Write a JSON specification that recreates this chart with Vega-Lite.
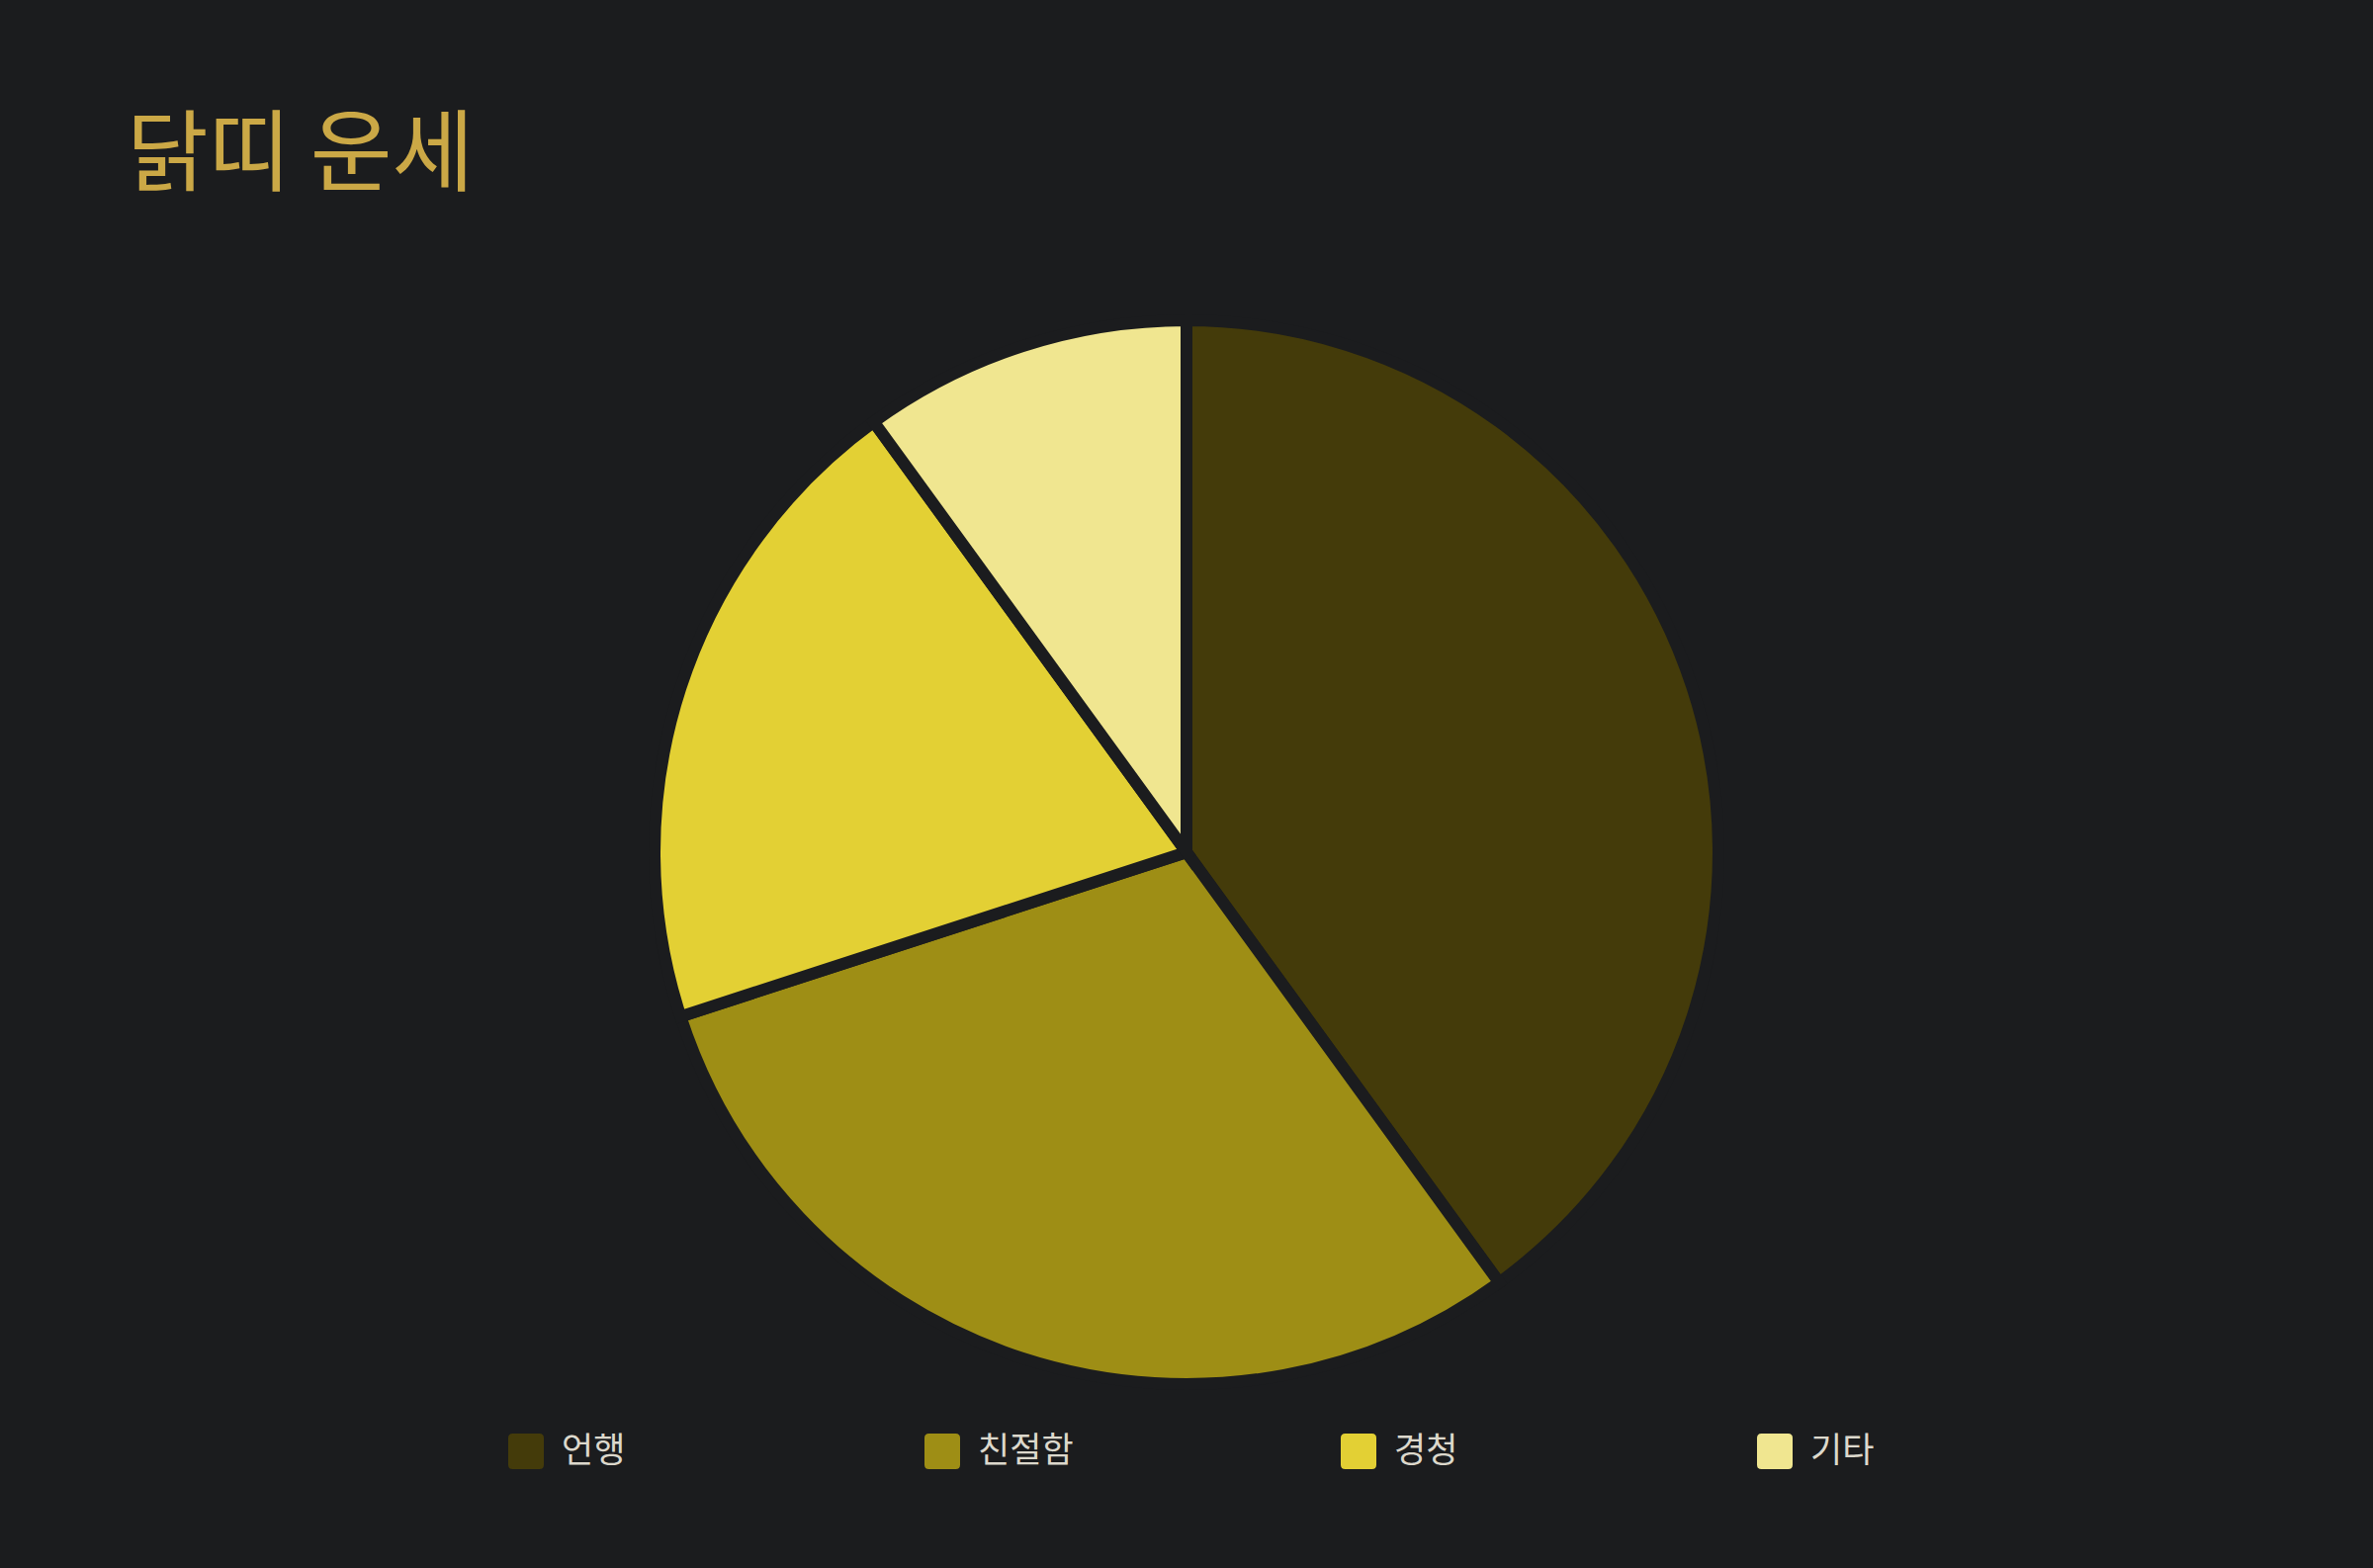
{
  "$schema": "https://vega.github.io/schema/vega-lite/v6.json",
  "description": "닭띠 운세 pie chart",
  "autosize": "none",
  "width": 2400,
  "height": 1124,
  "padding": {"top": 300, "left": 0, "right": 0, "bottom": 162},
  "background": "#1b1c1e",
  "config": {
    "view": {"stroke": null},
    "font": "Noto Sans CJK KR"
  },
  "title": {
    "text": "닭띠 운세",
    "anchor": "start",
    "frame": "group",
    "dx": 128,
    "offset": 95,
    "fontSize": 90,
    "fontWeight": "normal",
    "color": "#cba846"
  },
  "data": {
    "values": [
      {"항목": "언행", "값": 40},
      {"항목": "친절함", "값": 30},
      {"항목": "경청", "값": 20},
      {"항목": "기타", "값": 10}
    ]
  },
  "mark": {
    "type": "arc",
    "outerRadius": 538,
    "stroke": "#1b1c1e",
    "strokeWidth": 12
  },
  "encoding": {
    "theta": {"field": "값", "type": "quantitative", "stack": true},
    "order": {"field": "값", "type": "quantitative", "sort": "descending"},
    "color": {
      "field": "항목",
      "type": "nominal",
      "sort": ["언행", "친절함", "경청", "기타"],
      "scale": {
        "domain": ["언행", "친절함", "경청", "기타"],
        "range": ["#443b0a", "#9e8e15", "#e3d034", "#f0e690"]
      },
      "legend": {
        "title": null,
        "orient": "none",
        "legendX": 514,
        "legendY": 1150,
        "direction": "horizontal",
        "columns": 4,
        "padding": 0,
        "gridAlign": "all",
        "columnPadding": 270,
        "symbolType": "M -0.75 -1 L 0.75 -1 Q 1 -1 1 -0.75 L 1 0.75 Q 1 1 0.75 1 L -0.75 1 Q -1 1 -1 0.75 L -1 -0.75 Q -1 -1 -0.75 -1 Z",
        "symbolSize": 1296,
        "symbolStrokeWidth": 0,
        "symbolOpacity": 1,
        "labelFontSize": 35,
        "labelColor": "#dcd8cc",
        "labelOffset": 18,
        "labelLimit": 600
      }
    }
  }
}
